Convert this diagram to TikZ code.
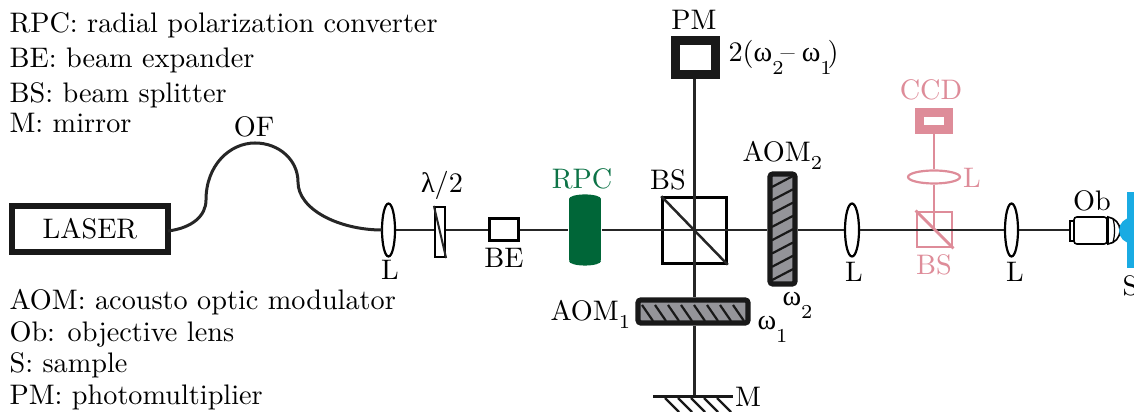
\documentclass[tikz,border=0pt]{standalone}
\usepackage{fontspec}
\usepackage{tikz}
\usetikzlibrary{shapes.geometric}
\usetikzlibrary{positioning}
\newfontfamily\grk{Liberation Serif}
\newcommand{\px}{0.354pt}
\newcommand{\omg}[1]{{\grk ω}\raisebox{-4.4pt}{\scriptsize #1}}
\definecolor{pinkish}{rgb}{0.87,0.55,0.60}
\definecolor{rpcgreen}{rgb}{0.0,0.40,0.22}
\definecolor{rpctext}{rgb}{0.05,0.45,0.28}
\definecolor{samplec}{rgb}{0.10,0.67,0.89}
\definecolor{aomgray}{rgb}{0.58,0.58,0.60}
\tikzset{
  beam/.style={line width=2.3*\px, black!85},
  pinkbeam/.style={line width=2.5*\px, pinkish},
  lens/.style={ellipse, draw, line width=2.2*\px, fill=white, inner sep=0pt},
  opticbox/.style={rectangle, draw, line width=2.2*\px, fill=white, inner sep=0pt},
  aomblock/.style={rectangle, draw=black!90, line width=5.2*\px, fill=aomgray, rounded corners=1pt, inner sep=0pt},
  hatchline/.style={line width=2.2*\px, black!90},
  plain/.style={inner sep=0pt, anchor=base west},
  lbl/.style={inner sep=0pt}
}
\begin{document}
\begin{tikzpicture}[x=0.354pt, y=-0.354pt]
  \clip[use as bounding box] (0,0) rectangle (1134,412);

  % legend
  \node (legA) at (9,33) [plain] {RPC: radial polarization converter};
  \node (legB) at (9,68) [plain] {BE: beam expander};
  \node (legC) at (9,103) [plain] {BS: beam splitter};
  \node (legD) at (9,133) [plain] {M: mirror};
  \node (legE) at (9,310) [plain] {AOM: acousto optic modulator};
  \node (legF) at (9,342) [plain] {Ob: objective lens};
  \node (legG) at (9,373) [plain] {S: sample};
  \node (legH) at (9,405) [plain] {PM: photomultiplier};

  % main parts
  \node (laser) at (90,229) [rectangle, draw=black!90, line width=6*\px, minimum width=156*\px, minimum height=46*\px, inner sep=0pt] {LASER};
  \node (lensA) at (388.5,230) [lens, minimum width=13*\px, minimum height=53*\px] {};
  \node (plate) at (440,232) [opticbox, minimum width=10*\px, minimum height=50*\px] {};
  \node (expander) at (504,230) [opticbox, line width=3*\px, minimum width=29*\px, minimum height=22*\px] {};
  \node (rpc) at (585,230) [rectangle, fill=rpcgreen, minimum width=32*\px, minimum height=61*\px, inner sep=0pt] {};
  \fill[rpcgreen] (rpc.north) ellipse (16 and 4.5);
  \fill[rpcgreen] (rpc.south) ellipse (16 and 4.5);
  \node (bsA) at (694.5,230.5) [rectangle, draw, line width=2.5*\px, minimum width=64*\px, minimum height=66*\px, inner sep=0pt] {};
  \node (aomB) at (782.5,229) [aomblock, minimum width=25*\px, minimum height=110*\px] {};
  \node (aomA) at (693,311.5) [aomblock, minimum width=110*\px, minimum height=23*\px] {};
  \node (pm) at (695.5,57.5) [rectangle, draw=black!90, line width=9*\px, fill=white, minimum width=40*\px, minimum height=34*\px, inner sep=0pt] {};
  \coordinate (mirror) at (694.5,397);
  \node (lensB) at (852,230) [lens, minimum width=14*\px, minimum height=53*\px] {};
  \node (lensC) at (1011.5,230) [lens, minimum width=13*\px, minimum height=53*\px] {};
  \node (obj) at (1090.5,230.5) [rectangle, draw, line width=1.6*\px, fill=white, rounded corners=1pt, minimum width=33*\px, minimum height=27*\px, inner sep=0pt] {};

  % pink arm
  \node (bsB) at (934.5,229.5) [rectangle, draw=pinkish, line width=2.8*\px, minimum width=35*\px, minimum height=35*\px, inner sep=0pt] {};
  \node (lensD) at (934,177) [ellipse, draw=pinkish, line width=2.2*\px, fill=white, minimum width=52*\px, minimum height=13*\px, inner sep=0pt] {};
  \node (ccd) at (934,121) [rectangle, draw=pinkish, line width=8.5*\px, fill=white, minimum width=29*\px, minimum height=17*\px, inner sep=0pt] {};

  % beams
  \coordinate (fibA) at (168,231);
  \coordinate (fibB) at (382,230);
  \draw[line width=3*\px, black!85] (fibA) .. controls (192,228) and (206,216) .. (206,200)
     .. controls (206,165) and (230,143) .. (255,143)
     .. controls (279,143) and (298,160) .. (298,182)
     .. controls (298,210) and (340,230) .. (fibB);
  \draw[beam] (lensA) -- (plate.west |- lensA);
  \draw[beam] (plate.east |- lensA) -- (expander);
  \draw[beam] (expander) -- (rpc);
  \draw[beam] (rpc) -- (bsA.center |- rpc);
  \draw[beam] (bsA.center |- rpc) -- (aomB.west |- rpc);
  \draw[beam] (aomB.east |- rpc) -- (lensB);
  \draw[beam] (lensB) -- (lensC);
  \draw[beam] (lensC) -- (obj.west |- lensC);
  \draw[beam] (bsA.center |- pm.south) -- (bsA.center);
  \draw[beam] (bsA.center) -- (bsA.center |- aomA.north);
  \draw[beam] (bsA.center |- aomA.south) -- (mirror);
  \draw[pinkbeam] (ccd) -- (lensD);
  \draw[pinkbeam] (lensD) -- (lensD |- lensC);

  % inner marks
  \draw[line width=2*\px, black!85] (plate.north west) -- (plate.south east);
  \draw[line width=2.5*\px, black!85] (bsA.north west) -- (bsA.south east);
  \draw[line width=2.8*\px, pinkish] (bsB.north west) -- (bsB.south east);
  \foreach \i in {0,...,7}
    \draw[hatchline] (772,187+13.3*\i) -- (793,176+13.3*\i);
  \foreach \i in {0,...,7}
    \draw[hatchline] (642+13*\i,305) -- (653+13*\i,321);
  \draw[line width=3*\px, black!90] (653,397) -- (733,397);
  \foreach \i in {0,...,4}
    \draw[hatchline] (665+13*\i,398) -- (679+13*\i,412);

  % objective and sample
  \draw[line width=1.6*\px, fill=white] (1070,221) rectangle (1074,241);
  \draw[line width=1.6*\px, fill=white] (1108,217) .. controls (1115,218) and (1120,224) .. (1120,230) .. controls (1120,238) and (1115,243) .. (1108,244) -- cycle;
  \draw[line width=1.2*\px] (1113,219) .. controls (1115,225) and (1115,236) .. (1113,242);
  \fill[samplec] (1132,230.5) circle (13);
  \fill[samplec] (1127,192) rectangle (1134,268);

  % labels
  \node (ofL) at (254,127) [lbl] {OF};
  \node (lamL) at (442,185) [lbl] {{\grk λ}/2};
  \node (lL) at (390,270) [lbl] {L};
  \node (beL) at (504,258) [lbl] {BE};
  \node (rpcL) at (582,179) [lbl, text=rpctext] {RPC};
  \node (bsL) at (668,180) [lbl] {BS};
  \node (pmL) at (694,20) [lbl] {PM};
  \node (pmF) at (728,62) [plain] {2(\omg{2}\kern-1pt–\kern2.5pt\omg{1}\kern-1.5pt)};
  \node (aomBL) at (742,162) [plain] {AOM\raisebox{-2.6pt}{\scriptsize 2}};
  \node (aomAL) at (550,321) [plain] {AOM\raisebox{-2.6pt}{\scriptsize 1}};
  \node (omB) at (782,306) [plain] {\omg{2}};
  \node (omA) at (757,330) [plain] {\omg{1}};
  \node (mL) at (748,397) [lbl] {M};
  \node (lB) at (854,272) [lbl] {L};
  \node (lC) at (1015,272) [lbl] {L};
  \node (bsBL) at (934,265) [lbl, text=pinkish] {BS};
  \node (lD) at (972,178) [lbl, text=pinkish] {L};
  \node (ccdL) at (931,90) [lbl, text=pinkish] {CCD};
  \node (obL) at (1092,201) [lbl] {Ob};
  \node (sL) at (1122,296) [plain] {S};
\end{tikzpicture}
\end{document}
